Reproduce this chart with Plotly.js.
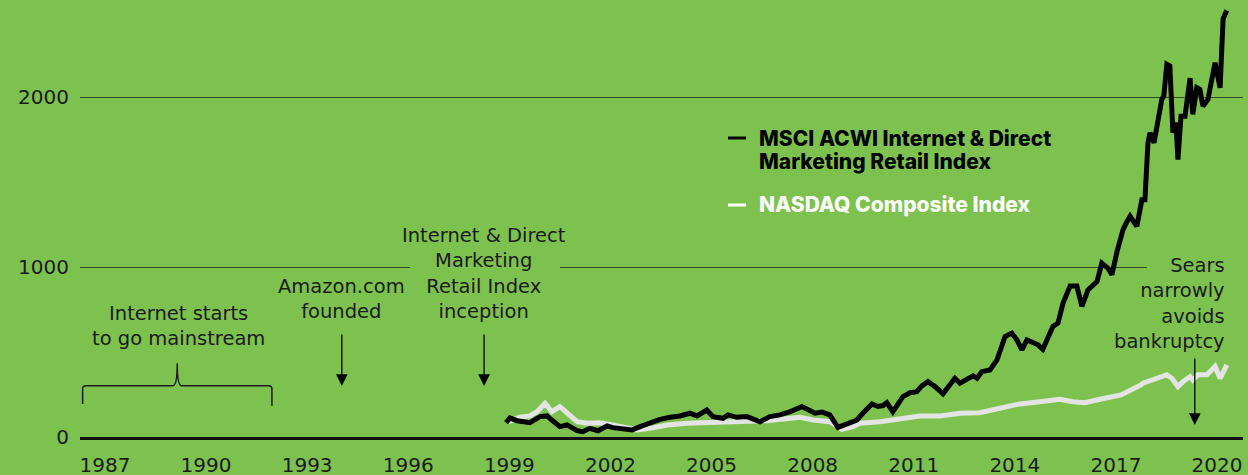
<!DOCTYPE html>
<html>
<head>
<meta charset="utf-8">
<script src="https://cdn.plot.ly/plotly-3.0.1.min.js"></script>
<style>
  html, body { margin: 0; padding: 0; background: #7dc24e; }
  #chart { width: 1248px; height: 475px; }
</style>
</head>
<body>
<div id="chart"></div>
<script>
// ---- Data ----
const msciYears = [1998.90,1999.02,1999.23,1999.61,1999.91,2000.12,2000.26,2000.50,2000.71,2001.01,2001.18,2001.39,2001.63,2001.90,2002.07,2002.37,2002.64,2002.88,2003.17,2003.47,2003.77,2004.06,2004.36,2004.57,2004.86,2005.04,2005.34,2005.49,2005.75,2006.05,2006.44,2006.73,2007.03,2007.33,2007.68,2007.86,2008.07,2008.28,2008.51,2008.75,2009.02,2009.31,2009.49,2009.76,2009.94,2010.09,2010.20,2010.38,2010.68,2010.89,2011.09,2011.24,2011.42,2011.63,2011.87,2012.07,2012.22,2012.37,2012.58,2012.76,2012.88,2013.02,2013.26,2013.47,2013.71,2013.91,2014.06,2014.21,2014.36,2014.51,2014.69,2014.83,2015.04,2015.13,2015.28,2015.43,2015.64,2015.84,2015.99,2016.17,2016.44,2016.58,2016.76,2016.88,2017.03,2017.21,2017.33,2017.42,2017.62,2017.77,2017.86,2017.95,2018.01,2018.13,2018.36,2018.42,2018.51,2018.60,2018.69,2018.78,2018.84,2018.93,2019.05,2019.20,2019.28,2019.40,2019.49,2019.58,2019.73,2019.94,2020.09,2020.18,2020.29];
const msciValues = [84,112,96,84,120,124,100,61,71,37,31,51,37,65,55,51,41,61,81,104,116,124,140,124,159,120,110,130,116,120,90,120,130,149,179,159,140,147,130,57,77,100,140,195,180,185,202,149,238,261,267,301,326,297,254,301,346,317,340,360,346,385,395,454,592,612,572,513,572,562,543,517,602,651,671,789,889,889,769,867,916,1024,995,956,1090,1221,1270,1300,1241,1398,1398,1733,1792,1733,1988,2008,2195,2185,1792,1851,1634,1890,1890,2114,1900,2057,2047,1949,1988,2205,2057,2465,2513];

const nasdaqYears = [1998.96,1999.31,1999.61,1999.82,2000.06,2000.26,2000.50,2000.71,2001.01,2001.30,2001.69,2002.07,2002.49,2002.79,2003.17,2003.68,2004.27,2005.04,2005.84,2006.64,2007.62,2008.01,2008.51,2008.87,2009.20,2009.40,2010.00,2010.59,2011.18,2011.78,2012.37,2012.96,2013.56,2014.15,2014.75,2015.34,2015.72,2016.08,2016.53,2017.15,2017.74,2017.80,2018.22,2018.51,2018.66,2018.84,2018.99,2019.20,2019.28,2019.43,2019.70,2019.94,2020.09,2020.29];
const nasdaqValues = [90,116,124,149,199,149,179,140,90,81,84,71,57,41,51,71,81,84,90,96,116,100,90,45,61,81,90,104,124,124,140,143,169,195,208,222,208,202,222,248,307,317,346,366,346,297,326,356,336,366,366,415,346,425];

const seriesNames = ["MSCI ACWI Internet & Direct Marketing Retail Index", "NASDAQ Composite Index"];
const xTickYears = [1987,1990,1993,1996,1999,2002,2005,2008,2011,2014,2017,2020];
const yTickValues = [0,1000,2000];

const bg = "#7dc24e";
const ink = "#1a1a1a";
const txtFont = {family: "DejaVu Sans", size: 19.5, color: ink};
const legFont = {family: "Inter", size: 21, weight: 800};

const traces = [
  {x: nasdaqYears, y: nasdaqValues, name: seriesNames[1], type: "scatter", mode: "lines",
   line: {color: "#e4e4e4", width: 5}, hoverinfo: "skip"},
  {x: msciYears, y: msciValues, name: seriesNames[0], type: "scatter", mode: "lines",
   line: {color: "#000000", width: 5}, hoverinfo: "skip"}
];

const annotations = [
  {xref: "x", yref: "y", x: 1989.17, y: 651, text: "Internet starts<br>to go mainstream",
   showarrow: false, font: txtFont, align: "center", xanchor: "center", yanchor: "middle"},
  {xref: "x", yref: "y", x: 1994.03, y: 813, text: "Amazon.com<br>founded",
   showarrow: false, font: txtFont, align: "center", xanchor: "center", yanchor: "middle"},
  {xref: "x", yref: "y", x: 1998.25, y: 963, text: "Internet & Direct<br>Marketing<br>Retail Index<br>inception",
   showarrow: false, font: txtFont, align: "center", xanchor: "center", yanchor: "middle"},
  {xref: "x", yref: "y", x: 2020.3, y: 789, text: "Sears<br>narrowly<br>avoids<br>bankruptcy",
   showarrow: false, font: txtFont, align: "right", xanchor: "right", yanchor: "middle"},
  // arrows
  {xref: "x", yref: "y", x: 1994.03, y: 300, text: "", showarrow: true, ax: 0, ay: -53,
   arrowhead: 2, arrowsize: 1.8, arrowwidth: 1.3, arrowcolor: "#000", standoff: 0},
  {xref: "x", yref: "y", x: 1998.25, y: 300, text: "", showarrow: true, ax: 0, ay: -53,
   arrowhead: 2, arrowsize: 1.8, arrowwidth: 1.3, arrowcolor: "#000", standoff: 0},
  {xref: "x", yref: "y", x: 2019.34, y: 71, text: "", showarrow: true, ax: 0, ay: -68,
   arrowhead: 2, arrowsize: 1.8, arrowwidth: 1.3, arrowcolor: "#000", standoff: 0},
  // legend labels
  {xref: "paper", yref: "paper", x: 0.5821, y: 0.6842, xanchor: "left", yanchor: "middle",
   text: "MSCI ACWI Internet & Direct", showarrow: false,
   font: Object.assign({color: "#000"}, legFont)},
  {xref: "paper", yref: "paper", x: 0.5821, y: 0.6293, xanchor: "left", yanchor: "middle",
   text: "Marketing Retail Index", showarrow: false,
   font: Object.assign({color: "#000"}, legFont)},
  {xref: "paper", yref: "paper", x: 0.5821, y: 0.5309, xanchor: "left", yanchor: "middle",
   text: "NASDAQ Composite Index", showarrow: false,
   font: Object.assign({color: "#ffffff"}, legFont)}
];

const shapes = [
  // gaps in the 1000 gridline behind labels
  {type: "rect", layer: "between", xref: "x", yref: "y", x0: 1996.05, x1: 2000.50, y0: 960, y1: 1040,
   fillcolor: bg, line: {width: 0}},
  {type: "rect", layer: "between", xref: "x", yref: "y", x0: 2017.92, x1: 2020.9, y0: 960, y1: 1040,
   fillcolor: bg, line: {width: 0}},
  // curly bracket
  {type: "path", xref: "x", yref: "y", layer: "above",
   path: "M 1986.338,194 L 1986.338,283 Q 1986.338,302 1986.436,302 L 1989.02,302 Q 1989.145,302 1989.145,434 Q 1989.145,302 1989.27,302 L 1991.857,302 Q 1991.955,302 1991.955,283 L 1991.955,184",
   line: {color: ink, width: 1.5}},
  // legend dashes
  {type: "line", xref: "paper", yref: "paper", x0: 0.5572, x1: 0.5727, y0: 0.6842, y1: 0.6842,
   line: {color: "#000", width: 3}},
  {type: "line", xref: "paper", yref: "paper", x0: 0.5572, x1: 0.5727, y0: 0.5309, y1: 0.5309,
   line: {color: "#ffffff", width: 3}}
];

const layout = {
  width: 1248, height: 475,
  margin: {l: 80, r: 5, t: 0, b: 38, pad: 0},
  paper_bgcolor: bg, plot_bgcolor: bg,
  showlegend: false,
  xaxis: {
    range: [1986.26, 2020.77], tickmode: "array", tickvals: xTickYears, ticktext: xTickYears.map(String),
    showgrid: false, zeroline: false, showline: true, linewidth: 3, linecolor: "#111",
    ticks: "", ticklabelstandoff: 8,
    tickfont: {family: "DejaVu Sans", size: 20, color: ink}, fixedrange: true
  },
  yaxis: {
    range: [0, 2574], tickmode: "array", tickvals: yTickValues, ticktext: yTickValues.map(String),
    showgrid: true, gridcolor: "#2f4a22", gridwidth: 1.2, zeroline: false, showline: false,
    ticks: "", ticklabelstandoff: 10,
    tickfont: {family: "DejaVu Sans", size: 20, color: ink}, fixedrange: true
  },
  annotations: annotations,
  shapes: shapes
};

Plotly.newPlot("chart", traces, layout, {displayModeBar: false, staticPlot: true});
</script>
</body>
</html>
